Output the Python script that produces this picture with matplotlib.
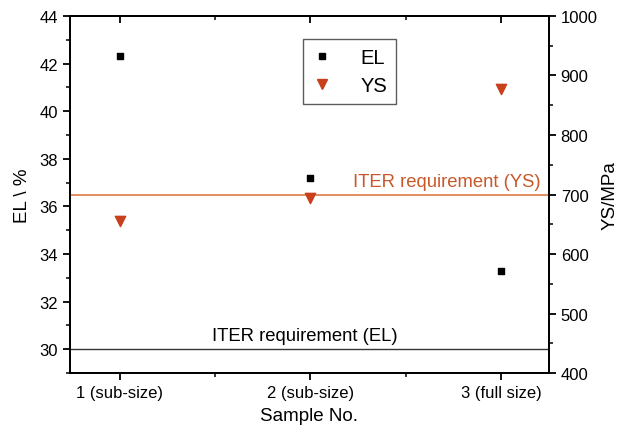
import matplotlib
matplotlib.use("Agg")
import matplotlib.pyplot as plt
from matplotlib.lines import Line2D

plt.rcParams['font.family'] = ['Liberation Sans', 'DejaVu Sans']

# Data
samples = [1, 2, 3]
sample_labels = ["1 (sub-size)", "2 (sub-size)", "3 (full size)"]
el_values = [42.3, 37.2, 33.3]          # elongation, %
ys_values = [655, 694, 878]             # yield strength, MPa
iter_el = 30.0                          # ITER requirement, EL (%)
iter_ys = 700.0                         # ITER requirement, YS (MPa)

el_color = "black"
ys_color = "#C8401C"
ys_line_color = "#E07A45"
ys_text_color = "#C8582A"

fig = plt.figure(figsize=(6.28, 4.35), dpi=100)
ax = fig.add_axes([0.1115, 0.140, 0.7625, 0.821])
ax2 = ax.twinx()

ax.set_xlim(0.74, 3.25)
ax.set_ylim(29, 44)
ax2.set_ylim(400, 1000)

# requirement lines
ax.axhline(iter_el, color="#333333", lw=1.0)
ax2.axhline(iter_ys, color=ys_line_color, lw=1.2)

ax.scatter(samples, el_values, marker="s", s=22, color=el_color, zorder=3)
ax2.scatter(samples, ys_values, marker="v", s=55, color=ys_color, zorder=3)

ax.text(1.97, 30.38, "ITER requirement (EL)", ha="center", va="baseline",
        fontsize=13.3, color="black")
ax2.text(3.207, iter_ys + 15, "ITER requirement (YS)", ha="right", va="baseline",
         fontsize=13.3, color=ys_text_color)

# ticks
ax.set_xticks(samples)
ax.set_xticklabels(sample_labels)
ax.set_xticks([1.5, 2.5], minor=True)
ax.set_yticks(range(30, 45, 2))
ax.set_yticks(range(29, 45, 1), minor=True)
ax2.set_yticks(range(400, 1001, 100))
ax2.set_yticks(range(450, 1000, 100), minor=True)

for a in (ax, ax2):
    for s in a.spines.values():
        s.set_linewidth(1.3)

ax.tick_params(axis="both", which="major", labelsize=12, width=1.3, length=5, direction="out")
ax.tick_params(axis="both", which="minor", width=1.1, length=3, direction="out")
ax.tick_params(axis="x", which="both", top=True)
ax2.tick_params(axis="y", which="major", labelsize=12, width=1.3, length=5, direction="out")
ax2.tick_params(axis="y", which="minor", width=1.1, length=3, direction="out")

# top ticks point inward
for t in ax.xaxis.get_major_ticks() + ax.xaxis.get_minor_ticks():
    t.tick2line.set_marker(matplotlib.lines.TICKDOWN)

ax.set_xlabel("Sample No.", fontsize=13.5, labelpad=5)
ax.set_ylabel("EL \\ %", fontsize=13.5, labelpad=6)
ax2.set_ylabel("YS/MPa", fontsize=13.5, labelpad=3)

handles = [
    Line2D([], [], ls="none", marker="s", markersize=4.5, color=el_color),
    Line2D([], [], ls="none", marker="v", markersize=7, color=ys_color),
]
leg = ax2.legend(handles, ["EL", "YS"], loc="upper left",
                 bbox_to_anchor=(0.486, 0.936), borderaxespad=0,
                 fontsize=14.5, frameon=True,
                 fancybox=False, edgecolor="#333333", handlelength=1.0,
                 handletextpad=1.4, borderpad=0.45, labelspacing=0.45)
leg.get_frame().set_linewidth(1.0)

fig.savefig("out.png", dpi=100)
